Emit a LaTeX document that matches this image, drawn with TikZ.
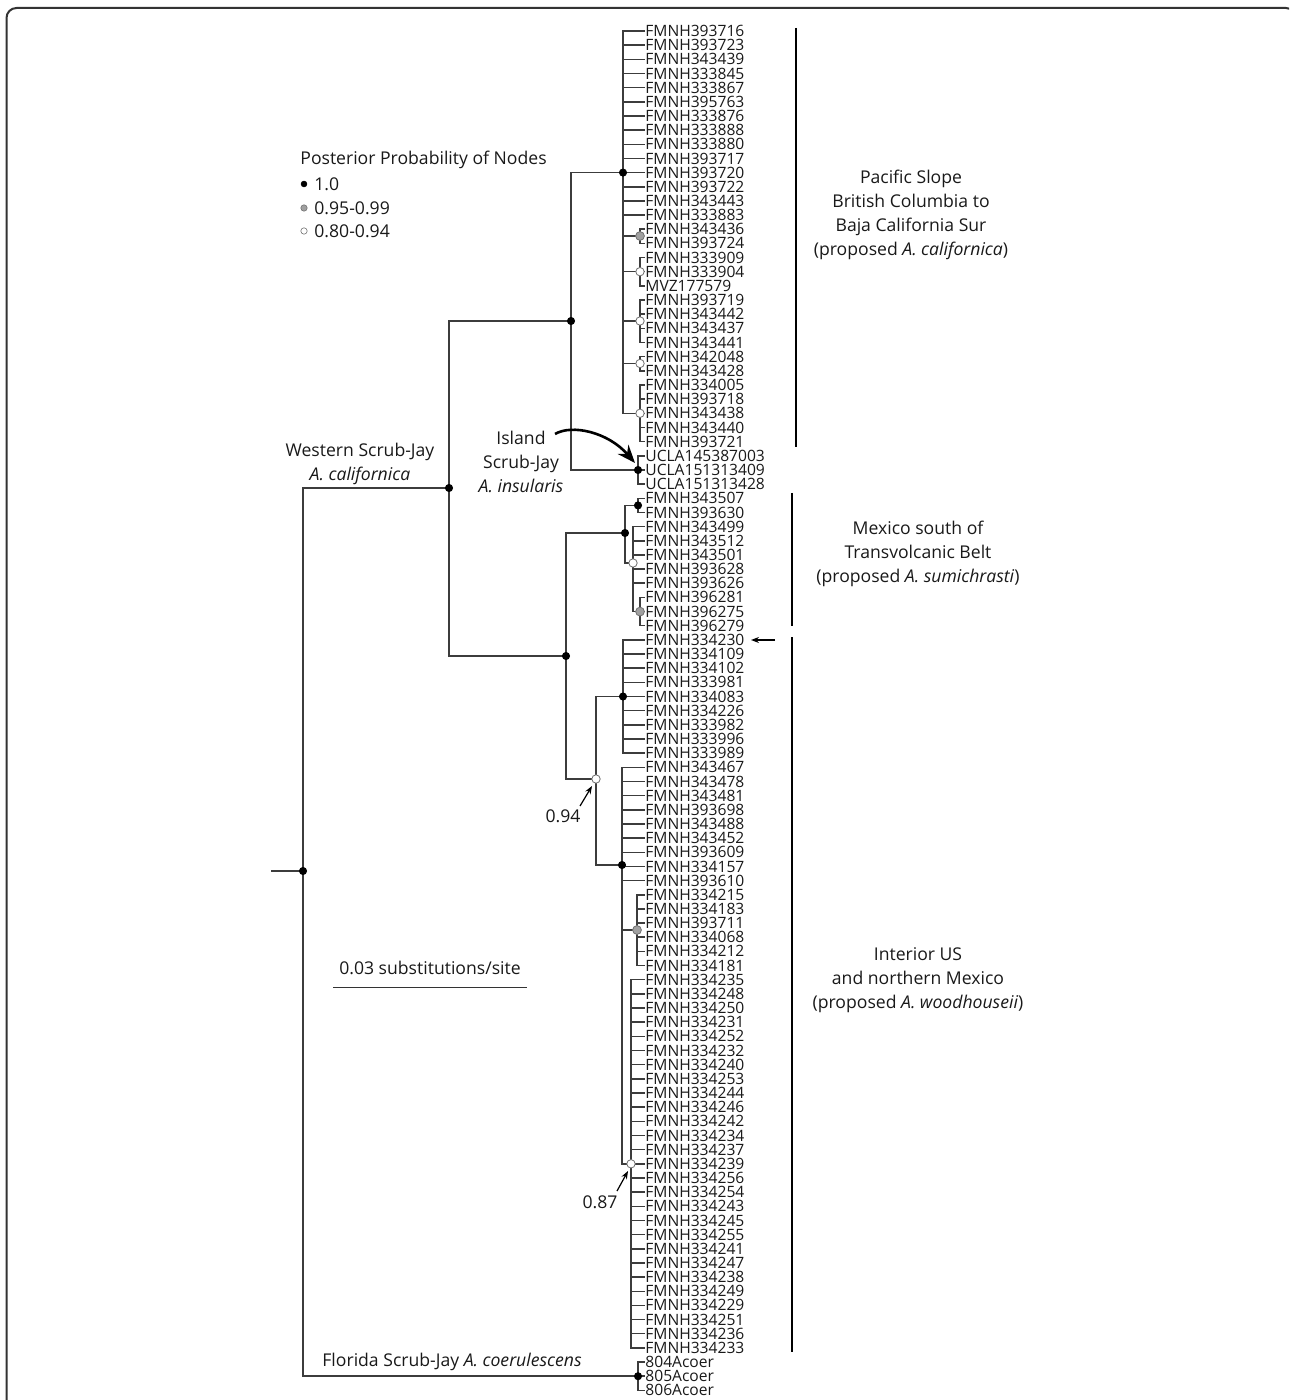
\documentclass[tikz,border=0pt]{standalone}
\usepackage{fontspec}
\setmainfont{Open Sans}
\usetikzlibrary{arrows.meta}
\definecolor{brc}{HTML}{3C3C3C}
\definecolor{gdotc}{HTML}{A0A0A0}
\definecolor{gdotb}{HTML}{707070}
\begin{document}
\begin{tikzpicture}[x=0.5pt,y=-0.5pt,
  br/.style={draw=brc,line width=0.75pt},
  tipl/.style={anchor=west,inner sep=0pt,font=\fontsize{7.8}{9}\selectfont,text=black!90},
  lbl/.style={inner sep=0pt,align=center,font=\fontsize{8.8}{12}\selectfont,text=black!90},
  bdot/.style={circle,fill=black,draw=black,inner sep=0pt,minimum size=3.6pt},
  gdot/.style={circle,fill=gdotc,draw=gdotb,line width=0.4pt,inner sep=0pt,minimum size=4.4pt},
  wdot/.style={circle,fill=white,draw=gdotb,line width=0.4pt,inner sep=0pt,minimum size=4.2pt},
  lbdot/.style={circle,fill=black,draw=black,inner sep=0pt,minimum size=2.8pt},
  lgdot/.style={circle,fill=gdotc,draw=gdotb,line width=0.3pt,inner sep=0pt,minimum size=3.2pt},
  lwdot/.style={circle,fill=white,draw=gdotb,line width=0.3pt,inner sep=0pt,minimum size=3.2pt},
  vbar/.style={draw=black,line width=1.25pt},
  smallarrow/.style={draw=black,line width=0.6pt,-{Stealth[length=4pt,width=3pt]}},
  bigarrow/.style={draw=black,line width=1.3pt,-{Stealth[length=9pt,width=7pt]}}
]
\useasboundingbox (0,0) rectangle (1289,1400);
\begin{scope}
\clip (0,0) rectangle (1289,1400);
\draw[draw=black!80,line width=1pt,rounded corners=5pt] (6.5,8) rectangle (1296,1430);
\end{scope}

% tips
\foreach \n [count=\i from 0] in {FMNH393716,FMNH393723,FMNH343439,FMNH333845,FMNH333867,FMNH395763,FMNH333876,FMNH333888,FMNH333880,FMNH393717,FMNH393720,FMNH393722,FMNH343443,FMNH333883,FMNH343436,FMNH393724,FMNH333909,FMNH333904,MVZ177579,FMNH393719,FMNH343442,FMNH343437,FMNH343441,FMNH342048,FMNH343428,FMNH334005,FMNH393718,FMNH343438,FMNH343440,FMNH393721,UCLA145387003,UCLA151313409,UCLA151313428,FMNH343507,FMNH393630,FMNH343499,FMNH343512,FMNH343501,FMNH393628,FMNH393626,FMNH396281,FMNH396275,FMNH396279,FMNH334230,FMNH334109,FMNH334102,FMNH333981,FMNH334083,FMNH334226,FMNH333982,FMNH333996,FMNH333989,FMNH343467,FMNH343478,FMNH343481,FMNH393698,FMNH343488,FMNH343452,FMNH393609,FMNH334157,FMNH393610,FMNH334215,FMNH334183,FMNH393711,FMNH334068,FMNH334212,FMNH334181,FMNH334235,FMNH334248,FMNH334250,FMNH334231,FMNH334252,FMNH334232,FMNH334240,FMNH334253,FMNH334244,FMNH334246,FMNH334242,FMNH334234,FMNH334237,FMNH334239,FMNH334256,FMNH334254,FMNH334243,FMNH334245,FMNH334255,FMNH334241,FMNH334247,FMNH334238,FMNH334249,FMNH334229,FMNH334251,FMNH334236,FMNH334233,804Acoer,805Acoer,806Acoer}
  {\node[tipl] (t\i) at (645,{31+\i*14.16}) {\n};}

% internal nodes
\coordinate (stem) at (271,871);
\coordinate (R) at (303,871);
\coordinate (W) at (449,488);
\coordinate (PI) at (571,321);
\coordinate (P) at (623,172.6);
\coordinate (A) at (640,236);
\coordinate (B) at (640,271.7);
\coordinate (C) at (640,321);
\coordinate (D) at (640,363.5);
\coordinate (E) at (640,413.3);
\coordinate (I) at (638,470);
\coordinate (MI) at (566,656);
\coordinate (M) at (625,533);
\coordinate (M1) at (638,505.4);
\coordinate (Mw) at (633,563);
\coordinate (Mg) at (640,611.6);
\coordinate (Int) at (596,779);
\coordinate (U) at (623,696.5);
\coordinate (L) at (622,865);
\coordinate (Lg) at (637,930);
\coordinate (L87) at (631,1163.8);
\coordinate (F) at (638,1376.2);

% branches
\draw[br] (stem) -- (R);
\draw[br] (R) |- (W);
\draw[br] (R) |- (F);
\draw[br] (W) |- (PI);
\draw[br] (W) |- (MI);
\draw[br] (PI) |- (P);
\draw[br] (PI) |- (I);
\foreach \i in {0,...,13} {\draw[br] (P) |- (t\i.west);}
\foreach \c in {A,B,C,D,E} {\draw[br] (P) |- (\c);}
\foreach \i in {14,15} {\draw[br] (A) |- (t\i.west);}
\foreach \i in {16,17,18} {\draw[br] (B) |- (t\i.west);}
\foreach \i in {19,...,22} {\draw[br] (C) |- (t\i.west);}
\foreach \i in {23,24} {\draw[br] (D) |- (t\i.west);}
\foreach \i in {25,...,29} {\draw[br] (E) |- (t\i.west);}
\foreach \i in {30,31,32} {\draw[br] (I) |- (t\i.west);}
\draw[br] (MI) |- (M);
\draw[br] (MI) |- (Int);
\draw[br] (M) |- (M1);
\draw[br] (M) |- (Mw);
\foreach \i in {33,34} {\draw[br] (M1) |- (t\i.west);}
\foreach \i in {35,...,39} {\draw[br] (Mw) |- (t\i.west);}
\draw[br] (Mw) |- (Mg);
\foreach \i in {40,41,42} {\draw[br] (Mg) |- (t\i.west);}
\draw[br] (Int) |- (U);
\draw[br] (Int) |- (L);
\foreach \i in {43,...,51} {\draw[br] (U) |- (t\i.west);}
\foreach \i in {52,...,60} {\draw[br] (L) |- (t\i.west);}
\draw[br] (L) |- (Lg);
\draw[br] (L) |- (L87);
\foreach \i in {61,...,66} {\draw[br] (Lg) |- (t\i.west);}
\foreach \i in {67,...,93} {\draw[br] (L87) |- (t\i.west);}
\foreach \i in {94,95,96} {\draw[br] (F) |- (t\i.west);}

% node dots
\foreach \c in {R,W,PI,P,I,MI,M,M1,U,L,F} {\node[bdot] (\c dot) at (\c) {};}
\foreach \c in {A,Mg,Lg} {\node[gdot] (\c dot) at (\c) {};}
\foreach \c in {B,C,D,E,Mw,Int,L87} {\node[wdot] (\c dot) at (\c) {};}

% clade bars
\coordinate (pb1) at (796,28);  \coordinate (pb2) at (796,447);
\coordinate (mb1) at (792,493); \coordinate (mb2) at (792,626);
\coordinate (ib1) at (792,637); \coordinate (ib2) at (792,1352);
\draw[vbar] (pb1) -- (pb2);
\draw[vbar] (mb1) -- (mb2);
\draw[vbar] (ib1) -- (ib2);

% clade labels
\node[lbl] (pac) at (911,215) {Pacific Slope\\British Columbia to\\Baja California Sur\\(proposed \textit{A. californica})};
\node[lbl] (mex) at (918,554) {Mexico south of\\Transvolcanic Belt\\(proposed \textit{A. sumichrasti})};
\node[lbl] (intl) at (918,980) {Interior US\\and northern Mexico\\(proposed \textit{A. woodhouseii})};
\node[lbl] (wsj) at (360,464) {Western Scrub-Jay\\\textit{A. californica}};
\node[lbl] (isj) at (521,462) {Island\\Scrub-Jay\\\textit{A. insularis}};
\node[lbl,anchor=west] (fsj) at (322,1362) {Florida Scrub-Jay \textit{A. coerulescens}};

% legend
\node[lbl,anchor=west] (legt) at (300,160) {Posterior Probability of Nodes};
\node[lbdot] (lg1) at (304,184) {};
\node[lgdot] (lg2) at (304,208) {};
\node[lwdot] (lg3) at (304,231) {};
\node[lbl,anchor=west] (lg1t) at (314,184) {1.0};
\node[lbl,anchor=west] (lg2t) at (314,208) {0.95-0.99};
\node[lbl,anchor=west] (lg3t) at (314,231) {0.80-0.94};

% scale bar
\node[lbl] (sct) at (430,968) {0.03 substitutions/site};
\coordinate (sc1) at (333,987); \coordinate (sc2) at (527,987);
\draw[draw=black!80,line width=0.5pt] (sc1) -- (sc2);

% support labels and arrows
\node[lbl] (p94) at (563,816) {0.94};
\node[lbl] (p87) at (600,1202) {0.87};
\coordinate (a94s) at (580,806); \coordinate (a94e) at (592,786);
\coordinate (a87s) at (617,1191); \coordinate (a87e) at (628,1171);
\draw[smallarrow] (a94s) -- (a94e);
\draw[smallarrow] (a87s) -- (a87e);

% arrow to FMNH334230
\coordinate (ar1) at (775,640); \coordinate (ar2) at (751,640);
\draw[smallarrow] (ar1) -- (ar2);

% island arrow
\coordinate (isA) at (555,434);
\coordinate (isB) at (635,463);
\draw[bigarrow] (isA) .. controls (572,424) and (608,432) .. (isB);
\end{tikzpicture}
\end{document}
